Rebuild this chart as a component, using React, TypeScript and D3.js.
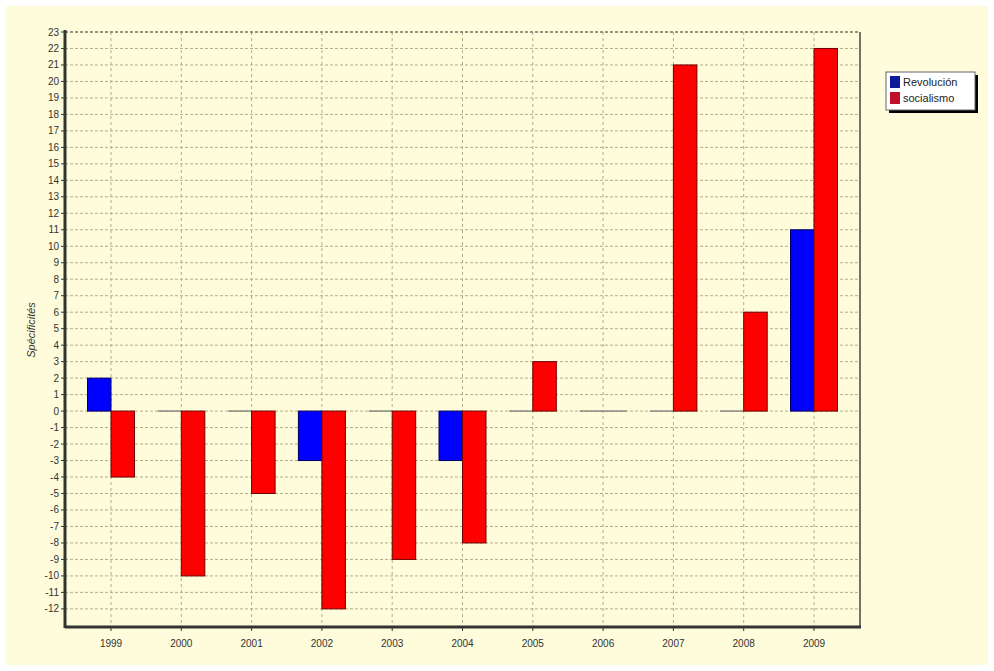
import React from "react";
import * as d3 from "d3";

const years = ["1999","2000","2001","2002","2003","2004","2005","2006","2007","2008","2009"];
const revolucion = [2, 0, 0, -3, 0, -3, 0, 0, 0, 0, 11];
const socialismo = [-4, -10, -5, -12, -9, -8, 3, 0, 21, 6, 22];
const seriesNames = ["Revolución", "socialismo"];
const seriesColors = ["#0000ff", "#ff0000"];
const yTicks = d3.range(-12, 24);

export default function App() {
  const W = 994, H = 671;
  const left = 65, right = 860, top = 32, bottom = 627;
  const y = d3.scaleLinear().domain([-13.1, 23]).range([bottom, top]);
  const x = d3.scalePoint<string>().domain(years).range([111, 814]);
  const bw = 23.5;
  const grid = "#b3ae86";
  const series = [revolucion, socialismo];

  return (
    <svg width={W} height={H} style={{ position: "absolute", left: 0, top: 0, fontFamily: "Liberation Sans, Arial, sans-serif" }}>
      <rect x={0} y={0} width={W} height={H} fill="#ffffff" />
      <rect x={6} y={6} width={982} height={659} fill="#fefcdb" />
      {/* grid */}
      {yTicks.map(t => (
        <line key={"h" + t} x1={left} x2={right} y1={y(t)} y2={y(t)} stroke={grid} strokeWidth={1} strokeDasharray="3,2" />
      ))}
      {years.map(c => (
        <line key={"v" + c} x1={x(c)} x2={x(c)} y1={top} y2={bottom} stroke={grid} strokeWidth={1} strokeDasharray="3,3" />
      ))}
      {/* frame */}
      <line x1={left} x2={right} y1={top} y2={top} stroke="#555" strokeWidth={1} strokeDasharray="3,2" />
      <line x1={right} x2={right} y1={top} y2={bottom} stroke="#444" strokeWidth={1.5} />
      {/* bars */}
      {series.map((s, si) =>
        s.map((v, i) => {
          const cx = x(years[i])!;
          const x0 = si === 0 ? cx - bw : cx;
          if (v === 0) {
            return <line key={si + "-" + i} x1={x0} x2={x0 + bw} y1={y(0)} y2={y(0)} stroke="#8a8a80" strokeWidth={1.5} />;
          }
          const y0 = Math.min(y(0), y(v));
          const h = Math.abs(y(v) - y(0));
          return (
            <rect key={si + "-" + i} x={x0} y={y0} width={bw} height={h}
              fill={seriesColors[si]} stroke={si === 0 ? "#000060" : "#700000"} strokeWidth={1} />
          );
        })
      )}
      {/* axes */}
      <line x1={left} x2={left} y1={top - 2} y2={bottom + 1} stroke="#333" strokeWidth={3} />
      <line x1={left} x2={right + 1} y1={bottom} y2={bottom} stroke="#333" strokeWidth={3} />
      {yTicks.map(t => (
        <g key={"yt" + t}>
          <line x1={left - 4} x2={left} y1={y(t)} y2={y(t)} stroke="#333" />
          <text x={left - 6} y={y(t)} dy="0.35em" textAnchor="end" fontSize={10} fill="#333">{t}</text>
        </g>
      ))}
      {years.map(c => (
        <g key={"xt" + c}>
          <line x1={x(c)} x2={x(c)} y1={bottom} y2={bottom + 4} stroke="#333" />
          <text x={x(c)} y={bottom + 20} textAnchor="middle" fontSize={10} fill="#333">{c}</text>
        </g>
      ))}
      <text transform={`translate(35,330) rotate(-90)`} textAnchor="middle" fontSize={11} fontStyle="italic" fill="#333">Spécificités</text>
      {/* legend */}
      <rect x={889} y={75} width={89} height={38} fill="#000" />
      <rect x={886} y={72} width={89} height={38} fill="#fff" stroke="#666" strokeWidth={1} />
      {seriesNames.map((n, i) => (
        <g key={n}>
          <rect x={890} y={76 + i * 16} width={10} height={12} fill={i === 0 ? "#0a1a9a" : "#c0102a"} />
          <text x={903} y={86 + i * 16} fontSize={11} fill="#222">{n}</text>
        </g>
      ))}
    </svg>
  );
}
